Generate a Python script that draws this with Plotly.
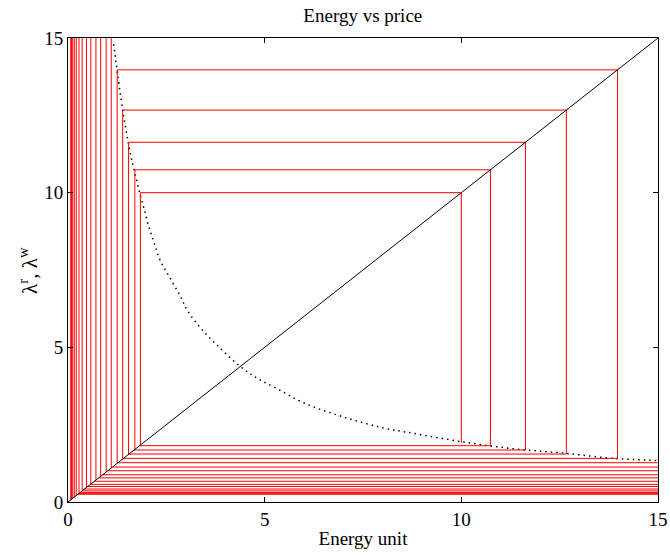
import plotly.graph_objects as go

# ---- data ----
# dotted curve (energy vs price response)
curve_x = [1.16, 1.22, 1.40, 1.59, 1.67, 1.84, 1.93, 2.04, 2.18, 2.33, 2.58, 2.86, 3.05, 3.41, 3.87, 4.38, 4.81, 5.32, 6.0, 7.0, 8.03, 8.79, 10.0, 11.33, 12.6, 13.87, 14.98]
curve_y = [14.8, 14.22, 12.6, 11.23, 10.8, 9.9, 9.5, 8.96, 8.42, 7.85, 7.27, 6.64, 6.16, 5.57, 4.97, 4.38, 4.0, 3.66, 3.2, 2.75, 2.39, 2.22, 1.95, 1.72, 1.58, 1.41, 1.34]

# cobweb iteration: upper corners on the diagonal (values above 15 fall outside the axes)
upper = [10.0, 10.74, 11.63, 12.67, 13.97, 15.8, 17.9, 21.0, 24.5, 30.0, 37.0, 48.0, 62.0, 83.0, 109.0, 145.0, 193.0, 249.0]
# x of the left vertical lines (rising from the diagonal)
left_x = [1.84, 1.70, 1.54, 1.39, 1.25, 1.10, 0.97, 0.83, 0.71, 0.58, 0.47, 0.36, 0.28, 0.21, 0.16, 0.12, 0.09, 0.07]
# y of the bottom horizontal lines (first value = starting point of the iteration)
bottom_y = [1.91, 1.82, 1.68, 1.55, 1.41, 1.27, 1.13, 1.01, 0.88, 0.78, 0.67, 0.57, 0.50, 0.42, 0.36, 0.31, 0.28, 0.25]

diag = [0, 15]

# ---- build cobweb path ----
px, py = [], []
for i in range(len(upper)):
    H, L, B = upper[i], left_x[i], bottom_y[i]
    if i > 0:
        px += [B]
        py += [B]
    px += [H, H, L, L, None]
    py += [B, H, H, L, None]

FONT = "Liberation Serif"

fig = go.Figure()
fig.add_trace(go.Scatter(x=curve_x, y=curve_y, mode="lines",
                         line=dict(color="black", width=1.5, dash="1.5px,4px", shape="spline"),
                         hoverinfo="skip", showlegend=False))
fig.add_trace(go.Scatter(x=px, y=py, mode="lines", line=dict(color="#ff0000", width=1),
                         connectgaps=False, hoverinfo="skip", showlegend=False))
fig.add_trace(go.Scatter(x=diag, y=diag, mode="lines", line=dict(color="black", width=1),
                         hoverinfo="skip", showlegend=False))

axis_common = dict(range=[0, 15], tickvals=[0, 5, 10, 15], ticks="inside", ticklen=5,
                   tickcolor="black", showline=True, linecolor="black", linewidth=1,
                   mirror="ticks", showgrid=False, zeroline=False, automargin=False,
                   tickfont=dict(family=FONT, size=19, color="black"))

fig.update_layout(
    width=670, height=555,
    margin=dict(l=68, r=12, t=38, b=53),
    paper_bgcolor="white", plot_bgcolor="white",
    title=dict(text="Energy vs price", x=0.5415, xanchor="center", y=0.985, yanchor="top",
               font=dict(family=FONT, size=19, color="black")),
    xaxis=dict(**axis_common, title=dict(text="Energy unit", standoff=2,
                                         font=dict(family=FONT, size=19, color="black"))),
    yaxis=dict(**axis_common),
    annotations=[dict(text="λ<sup>r</sup>, λ<sup>w</sup>", xref="paper", yref="paper",
                      x=-0.068, y=0.5, xanchor="center", yanchor="middle", textangle=-90,
                      showarrow=False, font=dict(family=FONT, size=21, color="black"))],
)

fig.write_html("out.html")
